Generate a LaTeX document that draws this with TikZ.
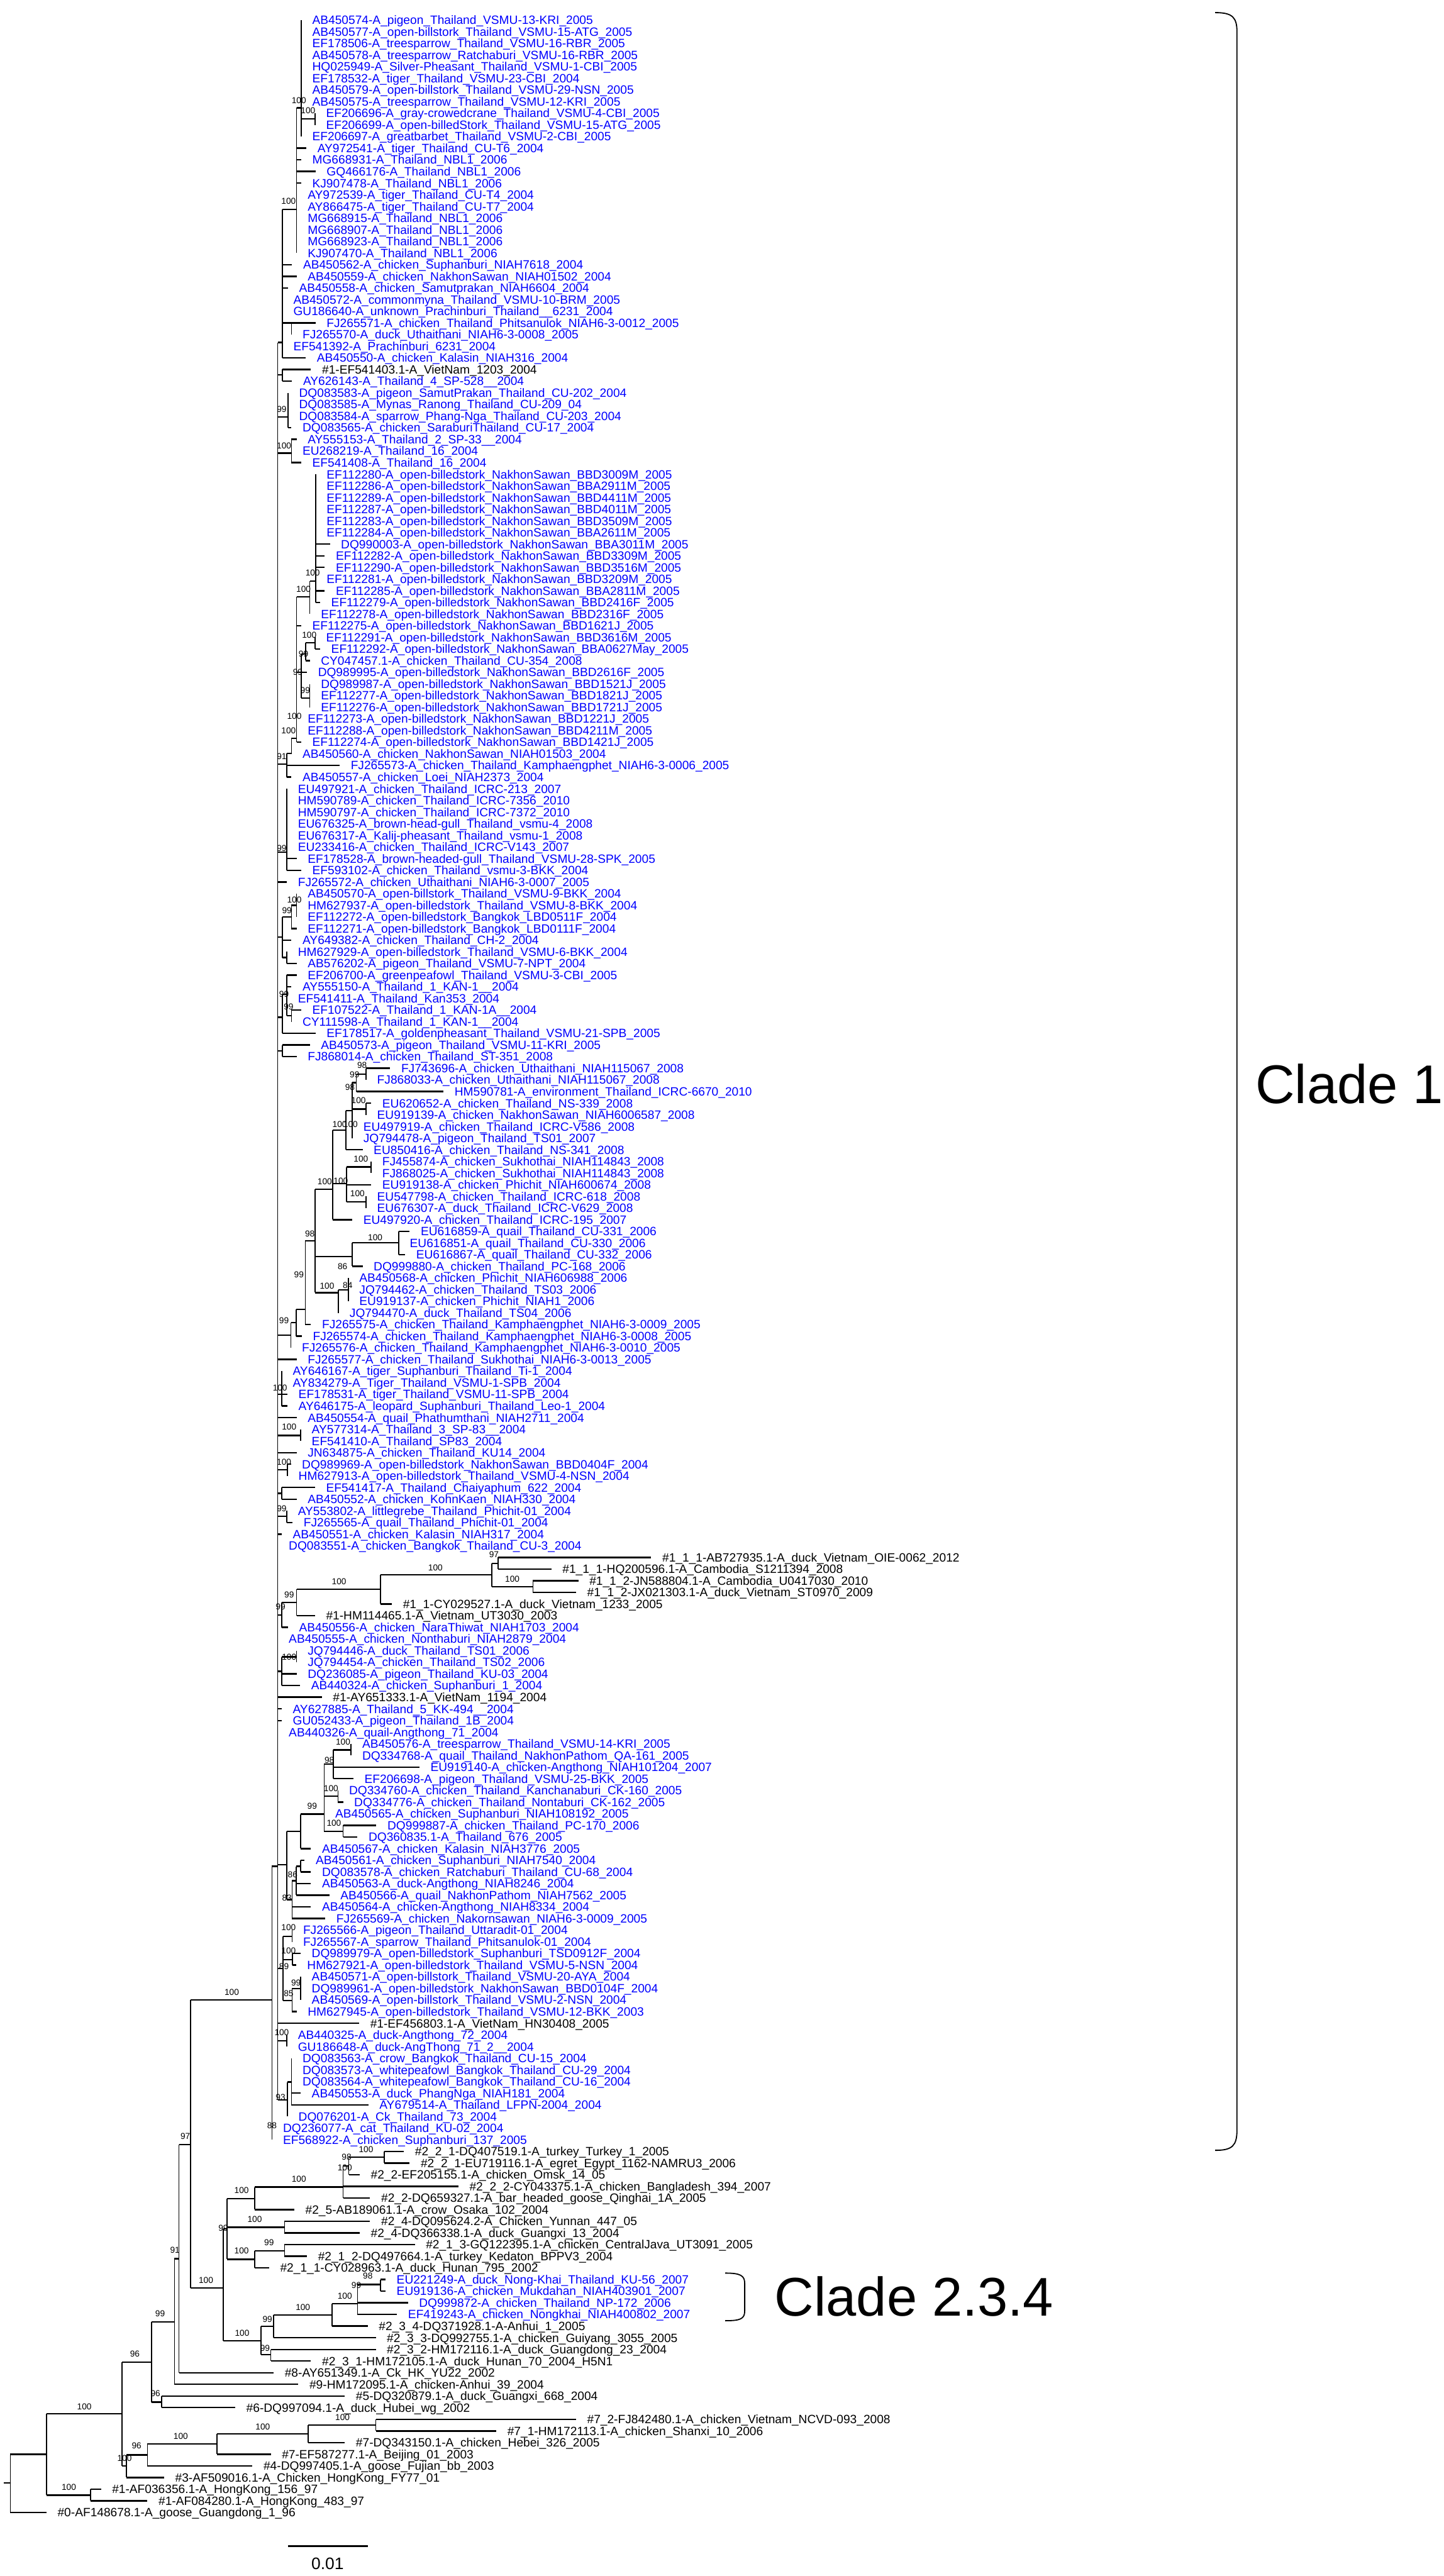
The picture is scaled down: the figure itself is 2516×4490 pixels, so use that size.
\documentclass[tikz,border=0pt]{standalone}
\usepackage{fontspec}
\setmainfont{Liberation Sans}
\usetikzlibrary{calc}

% branch and label styles
\tikzset{
  hbr/.style={line width=1.3pt},
  vbr/.style={line width=0.9pt},
  brk/.style={line width=1pt},
  lab/.style={anchor=base west, inner sep=0pt, font=\fontsize{10.5}{12}\selectfont},
  bsv/.style={inner sep=0pt, font=\fontsize{7.5}{9}\selectfont},
}
% row position of a tip (y grows downwards)
\newcommand{\ry}[1]{{35+(#1-1)*20.3}}
% leaf: [colour]{row}{parent}{tip x}{text}
\newcommand{\leaf}[5][blue]{%
  \coordinate (t#2) at (#4,\ry{#2});
  \draw[hbr] (#3 |- t#2) -- (t#2);
  \node[lab,text=#1] (l#2) at ([shift={(19,7.5)}]t#2) {#5};}
% clade: {name}{x}{y}{parent}{top}{bottom}
\newcommand{\clade}[6]{%
  \coordinate (#1) at (#2,#3);
  \draw[hbr] (#4 |- #1) -- (#1);
  \draw[vbr] (#2,#5) -- (#2,#6);}
% bootstrap value
\newcommand{\boot}[3]{\node[bsv] at (#1,#2) {#3};}

\begin{document}
\catcode`\_=12
\begin{tikzpicture}[x=0.5pt,y=-0.5pt]
\useasboundingbox (0,0) rectangle (2516,4490);
% Root
\coordinate (root) at (18,4328);
\draw[hbr] (7,4328) -- (root);
\draw[vbr] (18,4278) -- (18,\ry{215});
\clade{r2}{81}{4278}{root}{4207}{4349}
\leaf[black]{215}{root}{81}{\#0-AF148678.1-A_goose_Guangdong_1_96}
\clade{hk}{158}{4349}{r2}{\ry{213}}{\ry{214}}
\leaf[black]{213}{hk}{176}{\#1-AF036356.1-A_HongKong_156_97}
\leaf[black]{214}{hk}{257}{\#1-AF084280.1-A_HongKong_483_97}
\clade{nA}{213}{4207}{r2}{4117}{4298}
\clade{nE}{220}{4298}{nA}{4279}{\ry{212}}
\leaf[black]{212}{nE}{286}{\#3-AF509016.1-A_Chicken_HongKong_FY77_01}
\clade{nS}{257}{4279}{nE}{4260}{\ry{211}}
\leaf[black]{211}{nS}{440}{\#4-DQ997405.1-A_goose_Fujian_bb_2003}
\clade{nT}{378}{4260}{nS}{4242}{\ry{210}}
\leaf[black]{210}{nT}{472}{\#7-EF587277.1-A_Beijing_01_2003}
\clade{nU}{537}{4242}{nT}{4227}{\ry{209}}
\leaf[black]{209}{nU}{601}{\#7-DQ343150.1-A_chicken_Hebei_326_2005}
\clade{nV}{655}{4227}{nU}{\ry{207}}{\ry{208}}
\leaf[black]{207}{nV}{1004}{\#7_2-FJ842480.1-A_chicken_Vietnam_NCVD-093_2008}
\leaf[black]{208}{nV}{865}{\#7_1-HM172113.1-A_chicken_Shanxi_10_2006}
\clade{nB}{264}{4117}{nA}{4047}{4187}
\clade{nF}{282}{4187}{nB}{\ry{205}}{\ry{206}}
\leaf[black]{205}{nF}{601}{\#5-DQ320879.1-A_duck_Guangxi_668_2004}
\leaf[black]{206}{nF}{410}{\#6-DQ997094.1-A_duck_Hubei_wg_2002}
\clade{nC}{304}{4047}{nB}{3937}{\ry{204}}
\leaf[black]{204}{nC}{520}{\#9-HM172095.1-A_chicken-Anhui_39_2004}
\clade{nD}{312}{3937}{nC}{3738}{\ry{203}}
\leaf[black]{203}{nD}{477}{\#8-AY651349.1-A_Ck_HK_YU22_2002}
\clade{nG}{332}{3738}{nD}{3486}{3988}
% Clade 2 lineages
\clade{nH}{389}{3988}{nG}{3885}{4080}
\clade{nI}{396}{3885}{nH}{3832}{3938}
\clade{nP}{444}{3832}{nI}{3812}{\ry{189}}
\leaf[black]{189}{nP}{513}{\#2_5-AB189061.1-A_crow_Osaka_102_2004}
\clade{nP2}{598}{3812}{nP}{3775}{\ry{188}}
\leaf[black]{187}{nP2}{799}{\#2_2_2-CY043375.1-A_chicken_Bangladesh_394_2007}
\leaf[black]{188}{nP2}{645}{\#2_2-DQ659327.1-A_bar_headed_goose_Qinghai_1A_2005}
\clade{nP3}{608}{3775}{nP2}{3760}{\ry{186}}
\leaf[black]{186}{nP3}{627}{\#2_2-EF205155.1-A_chicken_Omsk_14_05}
\clade{nP4}{670}{3760}{nP3}{\ry{184}}{\ry{185}}
\leaf[black]{184}{nP4}{704}{\#2_2_1-DQ407519.1-A_turkey_Turkey_1_2005}
\leaf[black]{185}{nP4}{714}{\#2_2_1-EU719116.1-A_egret_Egypt_1162-NAMRU3_2006}
\clade{nQ}{496}{3882}{nI}{\ry{190}}{\ry{191}}
\leaf[black]{190}{nQ}{645}{\#2_4-DQ095624.2-A_Chicken_Yunnan_447_05}
\leaf[black]{191}{nQ}{627}{\#2_4-DQ366338.1-A_duck_Guangxi_13_2004}
\clade{nR}{444}{3938}{nI}{3923}{\ry{194}}
\leaf[black]{194}{nR}{469}{\#2_1_1-CY028963.1-A_duck_Hunan_795_2002}
\clade{nR2}{496}{3923}{nR}{\ry{192}}{\ry{193}}
\leaf[black]{192}{nR2}{723}{\#2_1_3-GQ122395.1-A_chicken_CentralJava_UT3091_2005}
\leaf[black]{193}{nR2}{535}{\#2_1_2-DQ497664.1-A_turkey_Kedaton_BPPV3_2004}
\clade{nJ}{455}{4080}{nH}{4055}{4104}
\clade{nK}{477}{4055}{nJ}{4035}{\ry{200}}
\leaf[black]{200}{nK}{655}{\#2_3_3-DQ992755.1-A_chicken_Guiyang_3055_2005}
\clade{nM}{579}{4035}{nK}{4015}{\ry{199}}
\leaf[black]{199}{nM}{641}{\#2_3_4-DQ371928.1-A-Anhui_1_2005}
\clade{nN}{623}{4015}{nM}{3982}{\ry{198}}
\leaf{197}{nN}{711}{DQ999872-A_chicken_Thailand_NP-172_2006}
\leaf{198}{nN}{692}{EF419243-A_chicken_Nongkhai_NIAH400802_2007}
\clade{nO}{663}{3982}{nN}{\ry{195}}{\ry{196}}
\leaf{195}{nO}{672}{EU221249-A_duck_Nong-Khai_Thailand_KU-56_2007}
\leaf{196}{nO}{672}{EU919136-A_chicken_Mukdahan_NIAH403901_2007}
\clade{nL}{472}{4104}{nJ}{\ry{201}}{\ry{202}}
\leaf[black]{201}{nL}{655}{\#2_3_2-HM172116.1-A_duck_Guangdong_23_2004}
\leaf[black]{202}{nL}{542}{\#2_3_1-HM172105.1-A_duck_Hunan_70_2004_H5N1}
% Clade 1
\clade{c1}{474}{3486}{nG}{3253}{\ry{183}}
\leaf{182}{c1}{474}{DQ236077-A_cat_Thailand_KU-02_2004}
\leaf{183}{c1}{474}{EF568922-A_chicken_Suphanburi_137_2005}
\clade{bb}{484}{3253}{c1}{597}{3660}
\clade{tA}{492}{597}{bb}{365}{\ry{30}}
\clade{tB}{517}{365}{tA}{188}{\ry{21}}
\clade{tC}{525}{188}{tB}{\ry{1}}{\ry{11}}
\leaf{1}{tC}{525}{AB450574-A_pigeon_Thailand_VSMU-13-KRI_2005}
\leaf{2}{tC}{525}{AB450577-A_open-billstork_Thailand_VSMU-15-ATG_2005}
\leaf{3}{tC}{525}{EF178506-A_treesparrow_Thailand_VSMU-16-RBR_2005}
\leaf{4}{tC}{525}{AB450578-A_treesparrow_Ratchaburi_VSMU-16-RBR_2005}
\leaf{5}{tC}{525}{HQ025949-A_Silver-Pheasant_Thailand_VSMU-1-CBI_2005}
\leaf{6}{tC}{525}{EF178532-A_tiger_Thailand_VSMU-23-CBI_2004}
\leaf{7}{tC}{525}{AB450579-A_open-billstork_Thailand_VSMU-29-NSN_2005}
\leaf{8}{tC}{525}{AB450575-A_treesparrow_Thailand_VSMU-12-KRI_2005}
\clade{tD}{549}{207}{tC}{\ry{9}}{\ry{10}}
\leaf{9}{tD}{549}{EF206696-A_gray-crowedcrane_Thailand_VSMU-4-CBI_2005}
\leaf{10}{tD}{549}{EF206699-A_open-billedStork_Thailand_VSMU-15-ATG_2005}
\leaf{11}{tC}{525}{EF206697-A_greatbarbet_Thailand_VSMU-2-CBI_2005}
\leaf{12}{tB}{534}{AY972541-A_tiger_Thailand_CU-T6_2004}
\leaf{13}{tB}{525}{MG668931-A_Thailand_NBL1_2006}
\leaf{14}{tB}{550}{GQ466176-A_Thailand_NBL1_2006}
\leaf{15}{tB}{525}{KJ907478-A_Thailand_NBL1_2006}
\leaf{16}{tB}{517}{AY972539-A_tiger_Thailand_CU-T4_2004}
\leaf{17}{tB}{517}{AY866475-A_tiger_Thailand_CU-T7_2004}
\leaf{18}{tB}{517}{MG668915-A_Thailand_NBL1_2006}
\leaf{19}{tB}{517}{MG668907-A_Thailand_NBL1_2006}
\leaf{20}{tB}{517}{MG668923-A_Thailand_NBL1_2006}
\leaf{21}{tB}{517}{KJ907470-A_Thailand_NBL1_2006}
\leaf{22}{tA}{509}{AB450562-A_chicken_Suphanburi_NIAH7618_2004}
\leaf{23}{tA}{517}{AB450559-A_chicken_NakhonSawan_NIAH01502_2004}
\leaf{24}{tA}{502}{AB450558-A_chicken_Samutprakan_NIAH6604_2004}
\leaf{25}{tA}{492}{AB450572-A_commonmyna_Thailand_VSMU-10-BRM_2005}
\leaf{26}{tA}{492}{GU186640-A_unknown_Prachinburi_Thailand__6231_2004}
\clade{tE}{508}{563}{tA}{\ry{27}}{\ry{28}}
\leaf{27}{tE}{550}{FJ265571-A_chicken_Thailand_Phitsanulok_NIAH6-3-0012_2005}
\leaf{28}{tE}{508}{FJ265570-A_duck_Uthaithani_NIAH6-3-0008_2005}
\leaf{29}{tA}{492}{EF541392-A_Prachinburi_6231_2004}
\leaf{30}{tA}{533}{AB450550-A_chicken_Kalasin_NIAH316_2004}
\clade{tF}{492}{653}{bb}{\ry{31}}{\ry{32}}
\leaf[black]{31}{tF}{542}{\#1-EF541403.1-A_VietNam_1203_2004}
\leaf{32}{tF}{509}{AY626143-A_Thailand_4_SP-528__2004}
\clade{tG}{502}{727}{bb}{\ry{33}}{\ry{36}}
\leaf{33}{tG}{502}{DQ083583-A_pigeon_SamutPrakan_Thailand_CU-202_2004}
\leaf{34}{tG}{502}{DQ083585-A_Mynas_Ranong_Thailand_CU-209_04}
\leaf{35}{tG}{502}{DQ083584-A_sparrow_Phang-Nga_Thailand_CU-203_2004}
\leaf{36}{tG}{508}{DQ083565-A_chicken_SaraburiThailand_CU-17_2004}
\clade{tH}{508}{790}{bb}{\ry{37}}{\ry{39}}
\leaf{37}{tH}{517}{AY555153-A_Thailand_2_SP-33__2004}
\leaf{38}{tH}{508}{EU268219-A_Thailand_16_2004}
\leaf{39}{tH}{525}{EF541408-A_Thailand_16_2004}
% open-billed storks, Nakhon Sawan
\clade{mA}{500}{1332}{bb}{1313}{\ry{66}}
\clade{mB}{508}{1313}{mA}{1287}{\ry{64}}
\clade{mC}{517}{1287}{mB}{1040}{\ry{63}}
\clade{mD}{540}{1040}{mC}{1013}{\ry{52}}
\clade{mE}{550}{1013}{mD}{\ry{40}}{\ry{51}}
\leaf{40}{mE}{550}{EF112280-A_open-billedstork_NakhonSawan_BBD3009M_2005}
\leaf{41}{mE}{550}{EF112286-A_open-billedstork_NakhonSawan_BBA2911M_2005}
\leaf{42}{mE}{550}{EF112289-A_open-billedstork_NakhonSawan_BBD4411M_2005}
\leaf{43}{mE}{550}{EF112287-A_open-billedstork_NakhonSawan_BBD4011M_2005}
\leaf{44}{mE}{550}{EF112283-A_open-billedstork_NakhonSawan_BBD3509M_2005}
\leaf{45}{mE}{550}{EF112284-A_open-billedstork_NakhonSawan_BBA2611M_2005}
\leaf{46}{mE}{575}{DQ990003-A_open-billedstork_NakhonSawan_BBA3011M_2005}
\leaf{47}{mE}{566}{EF112282-A_open-billedstork_NakhonSawan_BBD3309M_2005}
\leaf{48}{mE}{566}{EF112290-A_open-billedstork_NakhonSawan_BBD3516M_2005}
\leaf{49}{mE}{550}{EF112281-A_open-billedstork_NakhonSawan_BBD3209M_2005}
\leaf{50}{mE}{566}{EF112285-A_open-billedstork_NakhonSawan_BBA2811M_2005}
\leaf{51}{mE}{558}{EF112279-A_open-billedstork_NakhonSawan_BBD2416F_2005}
\leaf{52}{mD}{540}{EF112278-A_open-billedstork_NakhonSawan_BBD2316F_2005}
\leaf{53}{mC}{525}{EF112275-A_open-billedstork_NakhonSawan_BBD1621J_2005}
\clade{mF}{525}{1172}{mC}{1140}{1217}
\clade{mG}{533}{1140}{mF}{1120}{\ry{56}}
\clade{mH}{549}{1120}{mG}{\ry{54}}{\ry{55}}
\leaf{54}{mH}{549}{EF112291-A_open-billedstork_NakhonSawan_BBD3616M_2005}
\leaf{55}{mH}{558}{EF112292-A_open-billedstork_NakhonSawan_BBA0627May_2005}
\leaf{56}{mG}{540}{CY047457.1-A_chicken_Thailand_CU-354_2008}
\leaf{57}{mF}{535}{DQ989995-A_open-billedstork_NakhonSawan_BBD2616F_2005}
\clade{mI}{540}{1217}{mF}{\ry{58}}{\ry{60}}
\leaf{58}{mI}{540}{DQ989987-A_open-billedstork_NakhonSawan_BBD1521J_2005}
\leaf{59}{mI}{540}{EF112277-A_open-billedstork_NakhonSawan_BBD1821J_2005}
\leaf{60}{mI}{540}{EF112276-A_open-billedstork_NakhonSawan_BBD1721J_2005}
\leaf{61}{mC}{517}{EF112273-A_open-billedstork_NakhonSawan_BBD1221J_2005}
\leaf{62}{mC}{517}{EF112288-A_open-billedstork_NakhonSawan_BBD4211M_2005}
\leaf{63}{mC}{525}{EF112274-A_open-billedstork_NakhonSawan_BBD1421J_2005}
\leaf{64}{mB}{508}{AB450560-A_chicken_NakhonSawan_NIAH01503_2004}
\leaf{65}{mA}{592}{FJ265573-A_chicken_Thailand_Kamphaengphet_NIAH6-3-0006_2005}
\leaf{66}{mA}{508}{AB450557-A_chicken_Loei_NIAH2373_2004}
\clade{mJ}{500}{1485}{bb}{\ry{67}}{\ry{74}}
\leaf{67}{mJ}{500}{EU497921-A_chicken_Thailand_ICRC-213_2007}
\leaf{68}{mJ}{500}{HM590789-A_chicken_Thailand_ICRC-7356_2010}
\leaf{69}{mJ}{500}{HM590797-A_chicken_Thailand_ICRC-7372_2010}
\leaf{70}{mJ}{500}{EU676325-A_brown-head-gull_Thailand_vsmu-4_2008}
\leaf{71}{mJ}{500}{EU676317-A_Kalij-pheasant_Thailand_vsmu-1_2008}
\leaf{72}{mJ}{500}{EU233416-A_chicken_Thailand_ICRC-V143_2007}
\leaf{73}{mJ}{517}{EF178528-A_brown-headed-gull_Thailand_VSMU-28-SPK_2005}
\leaf{74}{mJ}{525}{EF593102-A_chicken_Thailand_vsmu-3-BKK_2004}
\leaf{75}{bb}{500}{FJ265572-A_chicken_Uthaithani_NIAH6-3-0007_2005}
\clade{mK}{492}{1633}{bb}{1598}{1669}
\clade{mL}{508}{1598}{mK}{1578}{\ry{79}}
\clade{mM}{517}{1578}{mL}{\ry{76}}{\ry{78}}
\leaf{76}{mM}{517}{AB450570-A_open-billstork_Thailand_VSMU-9-BKK_2004}
\leaf{77}{mM}{517}{HM627937-A_open-billedstork_Thailand_VSMU-8-BKK_2004}
\leaf{78}{mM}{517}{EF112272-A_open-billedstork_Bangkok_LBD0511F_2004}
\leaf{79}{mL}{517}{EF112271-A_open-billedstork_Bangkok_LBD0111F_2004}
\leaf{80}{mK}{508}{AY649382-A_chicken_Thailand_CH-2_2004}
\clade{mN}{500}{1669}{mK}{\ry{81}}{\ry{82}}
\leaf{81}{mN}{500}{HM627929-A_open-billedstork_Thailand_VSMU-6-BKK_2004}
\leaf{82}{mN}{517}{AB576202-A_pigeon_Thailand_VSMU-7-NPT_2004}
\clade{mO}{492}{1773}{bb}{1733}{\ry{88}}
\clade{mP}{500}{1733}{mO}{\ry{83}}{1770}
\leaf{83}{mP}{517}{EF206700-A_greenpeafowl_Thailand_VSMU-3-CBI_2005}
\leaf{84}{mP}{508}{AY555150-A_Thailand_1_KAN-1__2004}
\leaf{85}{mP}{500}{EF541411-A_Thailand_Kan353_2004}
\clade{mQ}{508}{1770}{mP}{\ry{86}}{\ry{87}}
\leaf{86}{mQ}{525}{EF107522-A_Thailand_1_KAN-1A__2004}
\leaf{87}{mQ}{508}{CY111598-A_Thailand_1_KAN-1__2004}
\leaf{88}{mO}{550}{EF178517-A_goldenpheasant_Thailand_VSMU-21-SPB_2005}
\clade{mR}{492}{1832}{bb}{\ry{89}}{\ry{90}}
\leaf{89}{mR}{540}{AB450573-A_pigeon_Thailand_VSMU-11-KRI_2005}
\leaf{90}{mR}{517}{FJ868014-A_chicken_Thailand_ST-351_2008}
% 2006-2010 Thai viruses
\clade{pA}{507}{2327}{bb}{2305}{\ry{115}}
\clade{pB}{516}{2305}{pA}{2282}{\ry{114}}
\clade{pC}{532}{2282}{pB}{2163}{\ry{113}}
\clade{pD}{549}{2163}{pC}{2073}{2253}
\clade{pE}{580}{2073}{pD}{1970}{\ry{104}}
\clade{pF}{603}{1970}{pE}{1936}{\ry{98}}
\clade{pG}{614}{1936}{pF}{1887}{\ry{97}}
\clade{pH}{621}{1887}{pG}{1872}{\ry{93}}
\clade{pI}{638}{1872}{pH}{\ry{91}}{\ry{92}}
\leaf{91}{pI}{680}{FJ743696-A_chicken_Uthaithani_NIAH115067_2008}
\leaf{92}{pI}{638}{FJ868033-A_chicken_Uthaithani_NIAH115067_2008}
\leaf{93}{pH}{773}{HM590781-A_environment_Thailand_ICRC-6670_2010}
\clade{pJ}{638}{1933}{pG}{\ry{94}}{\ry{95}}
\leaf{94}{pJ}{647}{EU620652-A_chicken_Thailand_NS-339_2008}
\leaf{95}{pJ}{638}{EU919139-A_chicken_NakhonSawan_NIAH6006587_2008}
\leaf{96}{pG}{614}{EU497919-A_chicken_Thailand_ICRC-V586_2008}
\leaf{97}{pG}{614}{JQ794478-A_pigeon_Thailand_TS01_2007}
\leaf{98}{pF}{632}{EU850416-A_chicken_Thailand_NS-341_2008}
\clade{pK}{604}{2063}{pE}{2034}{2095}
\clade{pL}{647}{2034}{pK}{\ry{99}}{\ry{100}}
\leaf{99}{pL}{647}{FJ455874-A_chicken_Sukhothai_NIAH114843_2008}
\leaf{100}{pL}{647}{FJ868025-A_chicken_Sukhothai_NIAH114843_2008}
\leaf{101}{pK}{647}{EU919138-A_chicken_Phichit_NIAH600674_2008}
\clade{pM}{638}{2095}{pK}{\ry{102}}{\ry{103}}
\leaf{102}{pM}{638}{EU547798-A_chicken_Thailand_ICRC-618_2008}
\leaf{103}{pM}{638}{EU676307-A_duck_Thailand_ICRC-V629_2008}
\leaf{104}{pE}{614}{EU497920-A_chicken_Thailand_ICRC-195_2007}
\clade{qA}{614}{2190}{pD}{2166}{\ry{108}}
\clade{qB}{695}{2166}{qA}{\ry{105}}{\ry{107}}
\leaf{105}{qB}{714}{EU616859-A_quail_Thailand_CU-331_2006}
\leaf{106}{qB}{695}{EU616851-A_quail_Thailand_CU-330_2006}
\leaf{107}{qB}{706}{EU616867-A_quail_Thailand_CU-332_2006}
\leaf{108}{qA}{632}{DQ999880-A_chicken_Thailand_PC-168_2006}
\clade{qC}{590}{2253}{pD}{2248}{\ry{112}}
\clade{qD}{607}{2248}{qC}{\ry{109}}{\ry{111}}
\leaf{109}{qD}{607}{AB450568-A_chicken_Phichit_NIAH606988_2006}
\leaf{110}{qD}{607}{JQ794462-A_chicken_Thailand_TS03_2006}
\leaf{111}{qD}{607}{EU919137-A_chicken_Phichit_NIAH1_2006}
\leaf{112}{qC}{590}{JQ794470-A_duck_Thailand_TS04_2006}
\leaf{113}{pC}{542}{FJ265575-A_chicken_Thailand_Kamphaengphet_NIAH6-3-0009_2005}
\leaf{114}{pB}{526}{FJ265574-A_chicken_Thailand_Kamphaengphet_NIAH6-3-0008_2005}
\leaf{115}{pA}{507}{FJ265576-A_chicken_Thailand_Kamphaengphet_NIAH6-3-0010_2005}
\leaf{116}{bb}{517}{FJ265577-A_chicken_Thailand_Sukhothai_NIAH6-3-0013_2005}
\clade{sA}{491}{2430}{bb}{\ry{117}}{\ry{120}}
\leaf{117}{sA}{491}{AY646167-A_tiger_Suphanburi_Thailand_Ti-1_2004}
\leaf{118}{sA}{491}{AY834279-A_Tiger_Thailand_VSMU-1-SPB_2004}
\leaf{119}{sA}{501}{EF178531-A_tiger_Thailand_VSMU-11-SPB_2004}
\leaf{120}{sA}{501}{AY646175-A_leopard_Suphanburi_Thailand_Leo-1_2004}
\leaf{121}{bb}{517}{AB450554-A_quail_Phathumthani_NIAH2711_2004}
\clade{sB}{524}{2502}{bb}{\ry{122}}{\ry{123}}
\leaf{122}{sB}{524}{AY577314-A_Thailand_3_SP-83__2004}
\leaf{123}{sB}{524}{EF541410-A_Thailand_SP83_2004}
\leaf{124}{bb}{517}{JN634875-A_chicken_Thailand_KU14_2004}
\clade{sC}{501}{2562}{bb}{\ry{125}}{\ry{126}}
\leaf{125}{sC}{507}{DQ989969-A_open-billedstork_NakhonSawan_BBD0404F_2004}
\leaf{126}{sC}{501}{HM627913-A_open-billedstork_Thailand_VSMU-4-NSN_2004}
\clade{sD}{491}{2603}{bb}{\ry{127}}{\ry{128}}
\leaf{127}{sD}{549}{EF541417-A_Thailand_Chaiyaphum_622_2004}
\leaf{128}{sD}{517}{AB450552-A_chicken_KohnKaen_NIAH330_2004}
\clade{sE}{500}{2643}{bb}{\ry{129}}{\ry{130}}
\leaf{129}{sE}{500}{AY553802-A_littlegrebe_Thailand_Phichit-01_2004}
\leaf{130}{sE}{510}{FJ265565-A_quail_Thailand_Phichit-01_2004}
\leaf{131}{bb}{491}{AB450551-A_chicken_Kalasin_NIAH317_2004}
\leaf{132}{bb}{484}{DQ083551-A_chicken_Bangkok_Thailand_CU-3_2004}
% Vietnam / Cambodia lineage
\clade{vA}{491}{2815}{bb}{2793}{\ry{139}}
\clade{vB}{517}{2793}{vA}{2770}{\ry{138}}
\clade{vC}{663}{2770}{vB}{2745}{\ry{137}}
\clade{vD}{857}{2745}{vC}{2725}{2766}
\clade{vE}{868}{2725}{vD}{\ry{133}}{\ry{134}}
\leaf[black]{133}{vE}{1135}{\#1_1_1-AB727935.1-A_duck_Vietnam_OIE-0062_2012}
\leaf[black]{134}{vE}{961}{\#1_1_1-HQ200596.1-A_Cambodia_S1211394_2008}
\clade{vF}{929}{2766}{vD}{\ry{135}}{\ry{136}}
\leaf[black]{135}{vF}{1008}{\#1_1_2-JN588804.1-A_Cambodia_U0417030_2010}
\leaf[black]{136}{vF}{1004}{\#1_1_2-JX021303.1-A_duck_Vietnam_ST0970_2009}
\leaf[black]{137}{vC}{683}{\#1_1-CY029527.1-A_duck_Vietnam_1233_2005}
\leaf[black]{138}{vB}{549}{\#1-HM114465.1-A_Vietnam_UT3030_2003}
\leaf{139}{vA}{502}{AB450556-A_chicken_NaraThiwat_NIAH1703_2004}
\leaf{140}{bb}{484}{AB450555-A_chicken_Nonthaburi_NIAH2879_2004}
\clade{wA}{491}{2913}{bb}{2888}{\ry{144}}
\clade{wB}{517}{2888}{wA}{\ry{141}}{\ry{142}}
\leaf{141}{wB}{517}{JQ794446-A_duck_Thailand_TS01_2006}
\leaf{142}{wB}{517}{JQ794454-A_chicken_Thailand_TS02_2006}
\leaf{143}{wA}{517}{DQ236085-A_pigeon_Thailand_KU-03_2004}
\leaf{144}{wA}{523}{AB440324-A_chicken_Suphanburi_1_2004}
\leaf[black]{145}{bb}{561}{\#1-AY651333.1-A_VietNam_1194_2004}
\leaf{146}{bb}{491}{AY627885-A_Thailand_5_KK-494__2004}
\leaf{147}{bb}{491}{GU052433-A_pigeon_Thailand_1B_2004}
\leaf{148}{bb}{484}{AB440326-A_quail-Angthong_71_2004}
\clade{gA}{500}{3250}{bb}{3192}{3311}
\clade{gB}{524}{3192}{gA}{3162}{\ry{158}}
\clade{gC}{565}{3162}{gB}{3075}{3192}
\clade{gD}{581}{3075}{gC}{3050}{\ry{152}}
\clade{gE}{612}{3050}{gD}{\ry{149}}{\ry{150}}
\leaf{149}{gE}{612}{AB450576-A_treesparrow_Thailand_VSMU-14-KRI_2005}
\leaf{150}{gE}{612}{DQ334768-A_quail_Thailand_NakhonPathom_QA-161_2005}
\leaf{151}{gD}{731}{EU919140-A_chicken-Angthong_NIAH101204_2007}
\leaf{152}{gD}{616}{EF206698-A_pigeon_Thailand_VSMU-25-BKK_2005}
\clade{gF}{589}{3131}{gC}{\ry{153}}{\ry{154}}
\leaf{153}{gF}{589}{DQ334760-A_chicken_Thailand_Kanchanaburi_CK-160_2005}
\leaf{154}{gF}{598}{DQ334776-A_chicken_Thailand_Nontaburi_CK-162_2005}
\leaf{155}{gC}{565}{AB450565-A_chicken_Suphanburi_NIAH108192_2005}
\clade{gG}{598}{3192}{gC}{\ry{156}}{\ry{157}}
\leaf{156}{gG}{656}{DQ999887-A_chicken_Thailand_PC-170_2006}
\leaf{157}{gG}{623}{DQ360835.1-A_Thailand_676_2005}
\leaf{158}{gB}{542}{AB450567-A_chicken_Kalasin_NIAH3776_2005}
\clade{gH}{509}{3311}{gA}{3278}{\ry{164}}
\clade{gI}{516}{3278}{gH}{3253}{\ry{162}}
\clade{gJ}{524}{3253}{gI}{\ry{159}}{\ry{160}}
\leaf{159}{gJ}{531}{AB450561-A_chicken_Suphanburi_NIAH7540_2004}
\leaf{160}{gJ}{542}{DQ083578-A_chicken_Ratchaburi_Thailand_CU-68_2004}
\leaf{161}{gI}{542}{AB450563-A_duck-Angthong_NIAH8246_2004}
\leaf{162}{gI}{574}{AB450566-A_quail_NakhonPathom_NIAH7562_2005}
\leaf{163}{gH}{542}{AB450564-A_chicken-Angthong_NIAH8334_2004}
\leaf{164}{gH}{567}{FJ265569-A_chicken_Nakornsawan_NIAH6-3-0009_2005}
\clade{hA}{493}{3431}{bb}{3375}{3487}
\clade{hB}{509}{3375}{hA}{\ry{165}}{\ry{166}}
\leaf{165}{hB}{509}{FJ265566-A_pigeon_Thailand_Uttaradit-01_2004}
\leaf{166}{hB}{509}{FJ265567-A_sparrow_Thailand_Phitsanulok-01_2004}
\clade{hC}{510}{3416}{hA}{\ry{167}}{\ry{168}}
\leaf{167}{hC}{524}{DQ989979-A_open-billedstork_Suphanburi_TSD0912F_2004}
\leaf{168}{hC}{516}{HM627921-A_open-billedstork_Thailand_VSMU-5-NSN_2004}
\clade{hD}{509}{3487}{hA}{3466}{\ry{172}}
\clade{hE}{524}{3466}{hD}{\ry{169}}{\ry{171}}
\leaf{169}{hE}{524}{AB450571-A_open-billstork_Thailand_VSMU-20-AYA_2004}
\leaf{170}{hE}{524}{DQ989961-A_open-billedstork_NakhonSawan_BBD0104F_2004}
\leaf{171}{hE}{524}{AB450569-A_open-billstork_Thailand_VSMU-2-NSN_2004}
\leaf{172}{hD}{517}{HM627945-A_open-billedstork_Thailand_VSMU-12-BKK_2003}
\leaf[black]{173}{bb}{626}{\#1-EF456803.1-A_VietNam_HN30408_2005}
\clade{kA}{500}{3557}{bb}{\ry{174}}{\ry{175}}
\leaf{174}{kA}{500}{AB440325-A_duck-Angthong_72_2004}
\leaf{175}{kA}{500}{GU186648-A_duck-AngThong_71_2__2004}
\clade{kB}{501}{3660}{bb}{3629}{\ry{181}}
\clade{kC}{508}{3629}{kB}{\ry{176}}{\ry{180}}
\leaf{176}{kC}{508}{DQ083563-A_crow_Bangkok_Thailand_CU-15_2004}
\leaf{177}{kC}{508}{DQ083573-A_whitepeafowl_Bangkok_Thailand_CU-29_2004}
\leaf{178}{kC}{508}{DQ083564-A_whitepeafowl_Bangkok_Thailand_CU-16_2004}
\leaf{179}{kC}{524}{AB450553-A_duck_PhangNga_NIAH181_2004}
\leaf{180}{kC}{642}{AY679514-A_Thailand_LFPN-2004_2004}
\leaf{181}{kB}{501}{DQ076201-A_Ck_Thailand_73_2004}
% Bootstrap values
\boot{521}{175}{100} \boot{537}{193}{100} \boot{503}{351}{100}
\boot{491}{713}{99} \boot{495}{777}{100} \boot{545}{998}{100}
\boot{529}{1027}{100} \boot{539}{1107}{100} \boot{529}{1140}{99}
\boot{519}{1172}{99} \boot{532}{1203}{99} \boot{513}{1248}{100}
\boot{503}{1273}{100} \boot{491}{1318}{91} \boot{491}{1478}{99}
\boot{513}{1568}{100} \boot{500}{1587}{99} \boot{495}{1733}{99}
\boot{503}{1755}{99} \boot{631}{1857}{98} \boot{618}{1873}{99}
\boot{610}{1895}{98} \boot{625}{1918}{100} \boot{592}{1960}{100}
\boot{611}{1960}{100} \boot{629}{2020}{100} \boot{566}{2060}{100}
\boot{594}{2058}{100} \boot{623}{2080}{100} \boot{654}{2157}{100}
\boot{540}{2150}{98} \boot{597}{2207}{86} \boot{521}{2222}{99}
\boot{570}{2241}{100} \boot{606}{2240}{84} \boot{495}{2302}{99}
\boot{488}{2419}{100} \boot{504}{2487}{100} \boot{495}{2548}{100}
\boot{491}{2630}{99} \boot{861}{2710}{97} \boot{759}{2732}{100}
\boot{893}{2752}{100} \boot{591}{2757}{100} \boot{504}{2780}{99}
\boot{489}{2800}{99} \boot{504}{2888}{100} \boot{598}{3036}{100}
\boot{574}{3068}{98} \boot{577}{3117}{100} \boot{544}{3148}{99}
\boot{582}{3178}{100} \boot{510}{3268}{86} \boot{500}{3308}{83}
\boot{503}{3360}{100} \boot{503}{3400}{100} \boot{495}{3427}{89}
\boot{516}{3456}{99} \boot{503}{3475}{85} \boot{404}{3473}{100}
\boot{491}{3543}{100} \boot{489}{3655}{93} \boot{474}{3705}{88}
\boot{323}{3723}{97} \boot{638}{3747}{100} \boot{604}{3760}{98}
\boot{601}{3778}{100} \boot{521}{3798}{100} \boot{421}{3818}{100}
\boot{444}{3868}{100} \boot{389}{3883}{99} \boot{469}{3909}{99}
\boot{421}{3923}{100} \boot{305}{3922}{91} \boot{359}{3975}{100}
\boot{641}{3967}{98} \boot{621}{3983}{99} \boot{601}{4002}{100}
\boot{528}{4022}{100} \boot{466}{4042}{99} \boot{279}{4033}{99}
\boot{422}{4067}{100} \boot{462}{4093}{99} \boot{235}{4103}{96}
\boot{271}{4172}{96} \boot{147}{4195}{100} \boot{597}{4213}{100}
\boot{458}{4230}{100} \boot{315}{4246}{100} \boot{238}{4263}{96}
\boot{217}{4285}{100} \boot{120}{4335}{100}
% Clade brackets
\draw[brk] (2118,22) .. controls (2148,22) and (2156,30) .. (2156,56) -- (2156,3712)
  .. controls (2156,3740) and (2148,3748) .. (2118,3748);
\node[anchor=west, inner sep=0pt, font=\fontsize{47.5}{50}\selectfont] (cl1) at (2188,1889) {Clade 1};
\draw[brk] (1264,3962) .. controls (1290,3962) and (1298,3966) .. (1298,3980) -- (1298,4028)
  .. controls (1298,4042) and (1290,4045) .. (1264,4045);
\node[anchor=west, inner sep=0pt, font=\fontsize{47.5}{50}\selectfont] (cl234) at (1350,4003) {Clade 2.3.4};
% Scale bar
\coordinate (sb1) at (502,4438);
\coordinate (sb2) at (641,4438);
\draw[hbr] (sb1) -- (sb2);
\node[inner sep=0pt, font=\fontsize{14.5}{16}\selectfont] (sbl) at (571,4468) {0.01};
\end{tikzpicture}
\end{document}
